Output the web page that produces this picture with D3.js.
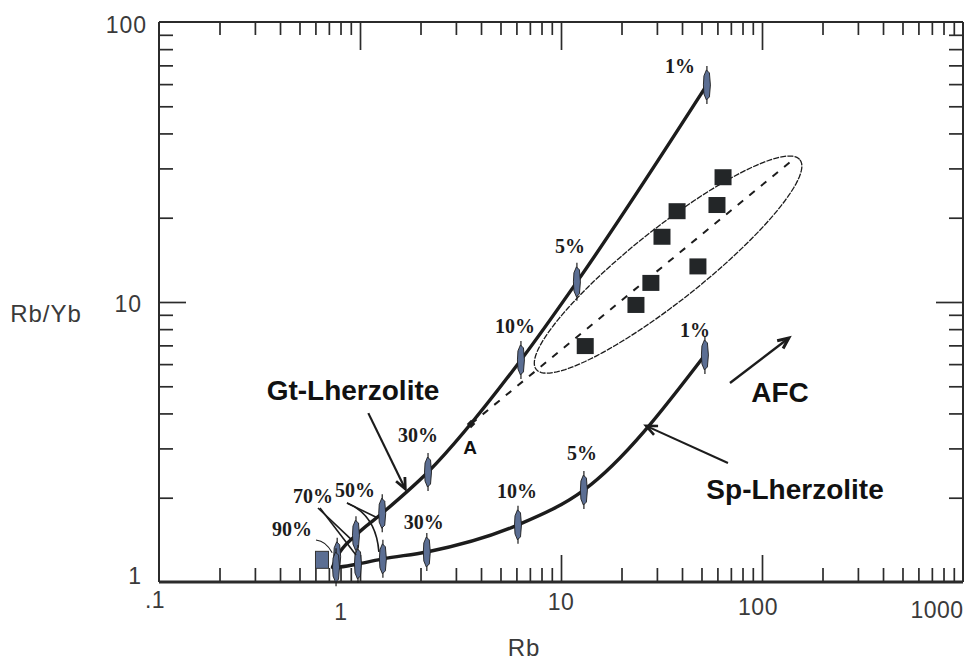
<!DOCTYPE html>
<html>
<head>
<meta charset="utf-8">
<script src="https://cdn.jsdelivr.net/npm/d3@7"></script>
<style>
  body { margin: 0; background: #fff; }
  svg { display: block; }
</style>
</head>
<body>
<svg width="966" height="661"></svg>
<script>
// melting curves (percent of melting at each tick on the curve)
const MELT_PCT = [90, 70, 50, 30, 10, 5, 1];
const GT_RB   = [0.77, 0.955, 1.29, 2.18, 6.32, 12.0, 53.2];
const GT_RBYB = [1.23, 1.47, 1.76, 2.47, 6.21, 11.8, 59.6];
const SP_RB   = [0.76, 0.977, 1.30, 2.15, 6.11, 13.0, 52.0];
const SP_RBYB = [1.13, 1.16, 1.21, 1.28, 1.60, 2.13, 6.47];
const CURVE_START = [0.73, 1.13];
const SOURCE = [0.647, 1.2];

// samples
const SAMPLE_RB   = [64.0, 37.8, 59.7, 31.8, 48.0, 28.0, 23.6, 13.2];
const SAMPLE_RBYB = [27.9, 21.1, 22.2, 17.1, 13.4, 11.7, 9.76, 6.96];

// dashed trend from point A, and the sample field ellipse (centre, tip of long axis)
const TREND_RB   = [3.57, 137.8];
const TREND_RBYB = [3.67, 31.6];
const FIELD_CENTRE = [34.1, 13.6];
const FIELD_TIP = [154.5, 32.2];

const X_TICKS = [0.1, 1, 10, 100, 1000];
const X_TICK_LABELS = [".1", "1", "10", "100", "1000"];
const Y_TICKS = [1, 10, 100];
const Y_TICK_LABELS = ["1", "10", "100"];

const PLOT = {left: 159, right: 963, top: 22, bottom: 582};
const MARKER_FILL = "#5b6e93";
const INK = "#1c1c1c";

const svg = d3.select("svg");

const x = d3.scaleLog().domain([0.1, 1000]).range([PLOT.left, PLOT.right]);
const y = d3.scaleLog().domain([1, 100]).range([PLOT.bottom, PLOT.top]);

// minor ticks 2..9 in every decade
function minors(ticks) {
  const out = [];
  for (let i = 0; i < ticks.length - 1; i++)
    for (let k = 2; k <= 9; k++) out.push(ticks[i] * k);
  return out;
}
const xMinor = minors(X_TICKS);
const yMinor = minors(Y_TICKS);
const xMajor = X_TICKS.slice(1, -1);
const yMajor = Y_TICKS.slice(1, -1);

function tickAxis(axisFn, scale, values, len, transform) {
  const g = svg.append("g")
    .attr("transform", transform)
    .call(axisFn(scale).tickValues(values).tickSize(-len).tickSizeOuter(0).tickFormat(""));
  g.select(".domain").remove();
  g.selectAll("line").attr("stroke", "#2b2b2b").attr("stroke-width", 1.7);
}
tickAxis(d3.axisBottom, x, xMinor, 14, `translate(0,${PLOT.bottom})`);
tickAxis(d3.axisBottom, x, xMajor, 27, `translate(0,${PLOT.bottom})`);
tickAxis(d3.axisTop, x, xMinor, 13, `translate(0,${PLOT.top})`);
tickAxis(d3.axisTop, x, xMajor, 28, `translate(0,${PLOT.top})`);
tickAxis(d3.axisLeft, y, yMinor, 14, `translate(${PLOT.left},0)`);
tickAxis(d3.axisLeft, y, yMajor, 27, `translate(${PLOT.left},0)`);
tickAxis(d3.axisRight, y, yMinor, 14, `translate(${PLOT.right},0)`);
tickAxis(d3.axisRight, y, yMajor, 27, `translate(${PLOT.right},0)`);

// frame
const frame = svg.append("g").attr("stroke", "#2b2b2b").attr("fill", "none");
frame.append("line").attr("x1", PLOT.left).attr("x2", PLOT.right).attr("y1", PLOT.top).attr("y2", PLOT.top).attr("stroke-width", 2);
frame.append("line").attr("x1", PLOT.left).attr("x2", PLOT.right).attr("y1", PLOT.bottom).attr("y2", PLOT.bottom).attr("stroke-width", 3);
frame.append("line").attr("x1", PLOT.left).attr("x2", PLOT.left).attr("y1", PLOT.top).attr("y2", PLOT.bottom).attr("stroke-width", 2);
frame.append("line").attr("x1", PLOT.right).attr("x2", PLOT.right).attr("y1", PLOT.top).attr("y2", PLOT.bottom).attr("stroke-width", 2);

// tick labels (the original labels sit a little off their ticks)
const xNudge = [-4, -19, 0, -4, -26];
const xBase = [608, 620, 610, 615, 618];
svg.append("g").selectAll("text")
  .data(X_TICKS)
  .join("text")
  .attr("x", (d, i) => x(d) + xNudge[i])
  .attr("y", (d, i) => xBase[i])
  .attr("text-anchor", "middle")
  .attr("font-family", "Liberation Sans, Arial, sans-serif")
  .attr("font-size", 23)
  .attr("letter-spacing", 0.5)
  .attr("fill", "#3a3a3a")
  .text((d, i) => X_TICK_LABELS[i]);

const yNudge = [2, 10, 11];
svg.append("g").selectAll("text")
  .data(Y_TICKS)
  .join("text")
  .attr("x", (d, i) => i === 2 ? 147 : 142)
  .attr("y", (d, i) => y(d) + yNudge[i])
  .attr("text-anchor", "end")
  .attr("font-family", "Liberation Sans, Arial, sans-serif")
  .attr("font-size", 23)
  .attr("letter-spacing", 1)
  .attr("fill", "#3a3a3a")
  .text((d, i) => Y_TICK_LABELS[i]);

svg.append("text").attr("x", 46).attr("y", 322).attr("text-anchor", "middle")
  .attr("font-family", "Liberation Sans, Arial, sans-serif").attr("font-size", 24)
  .attr("letter-spacing", 1).attr("fill", "#3a3a3a").text("Rb/Yb");
svg.append("text").attr("x", 524).attr("y", 656).attr("text-anchor", "middle")
  .attr("font-family", "Liberation Sans, Arial, sans-serif").attr("font-size", 24)
  .attr("letter-spacing", 1).attr("fill", "#3a3a3a").text("Rb");

// sample field ellipse
const c = [x(FIELD_CENTRE[0]), y(FIELD_CENTRE[1])];
const t = [x(FIELD_TIP[0]), y(FIELD_TIP[1])];
const a = Math.hypot(t[0] - c[0], t[1] - c[1]);
const b = a * 0.215;
const ang = Math.atan2(t[1] - c[1], t[0] - c[0]);
const ellPts = d3.range(0, 361, 3).map(deg => {
  const th = deg * Math.PI / 180;
  const ex = a * Math.cos(th), ey = b * Math.sin(th);
  return [c[0] + ex * Math.cos(ang) - ey * Math.sin(ang), c[1] + ex * Math.sin(ang) + ey * Math.cos(ang)];
});
svg.append("path")
  .attr("d", d3.line()(ellPts))
  .attr("fill", "none")
  .attr("stroke", INK)
  .attr("stroke-width", 1.3)
  .attr("stroke-dasharray", "6,1.2");

// dashed trend A -> samples
svg.append("path")
  .attr("d", d3.line().x(d => x(d[0])).y(d => y(d[1]))(TREND_RB.map((v, i) => [v, TREND_RBYB[i]])))
  .attr("fill", "none")
  .attr("stroke", INK)
  .attr("stroke-width", 2)
  .attr("stroke-dasharray", "7,8");

// melting curves
const curveLine = d3.line().x(d => x(d[0])).y(d => y(d[1])).curve(d3.curveMonotoneX);
const gtPts = [CURVE_START].concat(GT_RB.map((v, i) => [v, GT_RBYB[i]]));
const spPts = [CURVE_START].concat(SP_RB.map((v, i) => [v, SP_RBYB[i]]));
[gtPts, spPts].forEach(pts => {
  svg.append("path")
    .attr("d", curveLine(pts))
    .attr("fill", "none")
    .attr("stroke", INK)
    .attr("stroke-width", 3.4)
    .attr("stroke-linecap", "round");
});

// source composition
svg.append("rect")
  .attr("x", x(SOURCE[0]) - 6.5).attr("y", y(SOURCE[1]) - 8.5)
  .attr("width", 13).attr("height", 17)
  .attr("fill", MARKER_FILL).attr("stroke", "#333").attr("stroke-width", 1);

// tick marks on the curves
const markerPath = "M-0.5,-15 L2.5,-12 L3.5,0 L2.5,12 L-0.5,15 L-3,9 L-3.5,0 L-3,-9 Z";
function meltMarks(rb, rbyb) {
  const g = svg.append("g").selectAll("g")
    .data(rb.map((v, i) => [v, rbyb[i]]))
    .join("g")
    .attr("transform", d => `translate(${x(d[0])},${y(d[1])})`);
  g.append("line").attr("y1", -19).attr("y2", 19).attr("stroke", INK).attr("stroke-width", 1.2);
  g.append("path").attr("d", markerPath).attr("fill", MARKER_FILL).attr("stroke", INK).attr("stroke-width", 0.9);
}
meltMarks(GT_RB, GT_RBYB);
meltMarks(SP_RB, SP_RBYB);

// samples
svg.append("g").selectAll("rect")
  .data(SAMPLE_RB.map((v, i) => [v, SAMPLE_RBYB[i]]))
  .join("rect")
  .attr("x", d => x(d[0]) - 8.5)
  .attr("y", d => y(d[1]) - 8)
  .attr("width", 17)
  .attr("height", 16)
  .attr("fill", "#232628");

// point A on the Gt curve
svg.append("rect")
  .attr("x", x(TREND_RB[0]) - 3).attr("y", y(TREND_RBYB[0]) - 3)
  .attr("width", 6).attr("height", 6)
  .attr("transform", `rotate(45,${x(TREND_RB[0])},${y(TREND_RBYB[0])})`)
  .attr("fill", INK);

// percent labels, offset from their marks
const pctStyle = sel => sel
  .attr("text-anchor", "middle")
  .attr("font-family", "Liberation Serif, Times New Roman, serif")
  .attr("font-weight", "bold")
  .attr("font-size", 20)
  .attr("fill", INK);
const gtOff = {1: [-27, -12], 5: [-7, -29], 10: [-6, -27], 30: [-10, -30]};
const spOff = {1: [-10, -18], 5: [-2, -30], 10: [-1, -27], 30: [-3, -23]};
MELT_PCT.forEach((p, i) => {
  if (gtOff[p]) svg.append("text").call(pctStyle)
    .attr("x", x(GT_RB[i]) + gtOff[p][0]).attr("y", y(GT_RBYB[i]) + gtOff[p][1]).text(p + "%");
  if (spOff[p]) svg.append("text").call(pctStyle)
    .attr("x", x(SP_RB[i]) + spOff[p][0]).attr("y", y(SP_RBYB[i]) + spOff[p][1]).text(p + "%");
});
// the crowded low-degree ticks get leader lines
const crowded = [
  {p: 50, lx: 355, ly: 497},
  {p: 70, lx: 313, ly: 503},
  {p: 90, lx: 292, ly: 536}
];
crowded.forEach(d => {
  svg.append("text").call(pctStyle).attr("x", d.lx).attr("y", d.ly).text(d.p + "%");
});
const leaders = svg.append("g").attr("fill", "none").attr("stroke", INK).attr("stroke-width", 1.6);
function px(rb, v) { return [x(rb), y(v)]; }
const gt50 = px(GT_RB[2], GT_RBYB[2]), sp50 = px(SP_RB[2], SP_RBYB[2]);
const gt70 = px(GT_RB[1], GT_RBYB[1]), sp70 = px(SP_RB[1], SP_RBYB[1]);
const gt90 = px(GT_RB[0], GT_RBYB[0]);
leaders.append("path").attr("d", `M347,503 L${gt50[0] - 4},${gt50[1] + 5}`);
leaders.append("path").attr("d", `M347,503 Q376,515 ${sp50[0] - 4},${sp50[1] - 7}`);
leaders.append("path").attr("d", `M318,508 L${gt70[0] - 4},${gt70[1] + 5}`);
leaders.append("path").attr("d", `M320,508 L${sp70[0] - 2},${sp70[1] - 9}`);
leaders.append("path").attr("d", `M316,540 Q326,541 ${gt90[0] - 5},${gt90[1] - 4}`).attr("stroke-width", 1.1);

// arrows
function arrow(from, to, w) {
  const p0 = [x(from[0]), y(from[1])], p1 = [x(to[0]), y(to[1])];
  const th = Math.atan2(p1[1] - p0[1], p1[0] - p0[0]);
  const h = 12, s = 0.42;
  const l = [p1[0] - h * Math.cos(th - s), p1[1] - h * Math.sin(th - s)];
  const r = [p1[0] - h * Math.cos(th + s), p1[1] - h * Math.sin(th + s)];
  const g = svg.append("g").attr("fill", "none").attr("stroke", INK).attr("stroke-width", w);
  g.append("path").attr("d", `M${p0} L${p1}`);
  g.append("path").attr("d", `M${l} L${p1} L${r}`).attr("stroke-width", w + 0.6);
}
arrow([1.10, 4.01], [1.68, 2.15], 2.2);
arrow([67.7, 2.66], [26.5, 3.61], 2);
arrow([69.3, 5.14], [136, 7.44], 2.4);

// labels
const bigLabel = (txt, rb, v, size) => svg.append("text")
  .attr("x", x(rb)).attr("y", y(v))
  .attr("text-anchor", "middle")
  .attr("font-family", "Liberation Sans, Arial, sans-serif")
  .attr("font-weight", "bold")
  .attr("font-size", size)
  .attr("fill", "#111")
  .text(txt);
bigLabel("Gt-Lherzolite", 0.923, 4.47, 28);
bigLabel("Sp-Lherzolite", 146, 1.98, 28);
bigLabel("AFC", 123, 4.39, 28);
bigLabel("A", 3.53, 2.86, 19);
</script>
</body>
</html>
